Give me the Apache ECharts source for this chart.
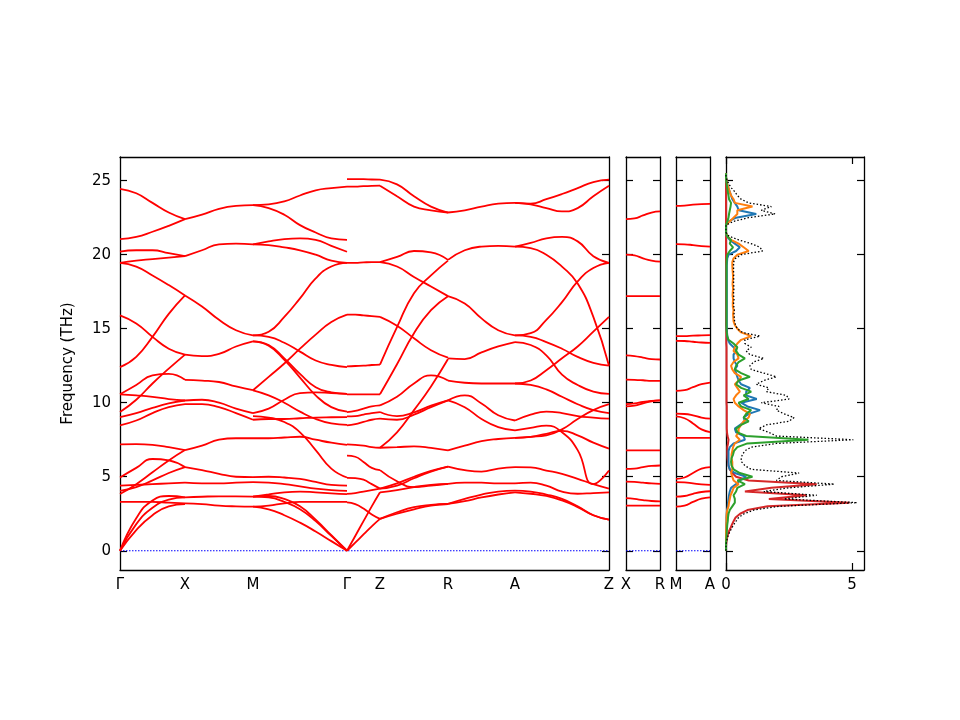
<!DOCTYPE html>
<html><head><meta charset="utf-8">
<script src="https://cdn.jsdelivr.net/npm/echarts@6/dist/echarts.min.js"></script>
<style>html,body{margin:0;padding:0;background:#fff}#c{width:960px;height:720px}</style>
</head><body><div id="c"></div>
<script>
// High-symmetry path
const kLabels = ['Γ','X','M','Γ','Z','R','A','Z'];
const kDist = [0, 65, 133, 227, 260, 328, 395, 489];

// Band values per segment (THz), sampled evenly along each segment
const segGX = [
 [24.45,24.15,23.5,22.85,22.4],[21.05,21.2,21.55,21.95,22.4],[20.2,20.3,20.3,20.1,19.9],
 [19.45,19.6,19.7,19.8,19.9],[19.45,19.2,18.6,17.95,17.25],[15.9,15.35,14.45,13.65,13.25],
 [12.4,13.1,14.45,16.0,17.25],[10.57,11.2,11.85,11.95,11.55],[9.37,10.2,11.3,12.3,13.25],
 [10.57,10.5,10.4,10.25,10.15],[9.03,9.3,9.65,9.95,10.15],[8.47,8.8,9.3,9.7,9.9],[7.18,7.2,7.15,7.0,6.8],
 [4.95,5.6,6.2,6.1,5.65],[3.83,4.5,5.3,6.1,6.8],[4.05,4.3,4.75,5.25,5.65],[4.4,4.45,4.5,4.55,4.6],
 [3.3,3.3,3.3,3.25,3.2],[0,2.2,3.4,3.7,3.6],[0,1.8,2.9,3.45,3.6],[0,1.4,2.4,3.0,3.15]
];
const segXM = [
 [22.4,22.7,23.1,23.3,23.35],[19.9,20.3,20.7,20.75,20.7],[17.25,16.5,15.6,14.9,14.55],
 [13.25,13.15,13.3,13.8,14.15],[11.55,11.5,11.4,11.1,10.85],[10.15,10.2,10.0,9.6,9.3],
 [9.9,9.9,9.7,9.3,8.85],[6.8,7.1,7.5,7.6,7.6],[5.65,5.45,5.2,5.0,4.97],[4.6,4.55,4.55,4.6,4.63],
 [3.6,3.65,3.68,3.67,3.66],[3.2,3.15,3.05,3.0,2.98]
];
const segMG = [
 [23.35,23.4,23.6,24.0,24.35,24.5,24.6],[23.35,23.15,22.7,22.0,21.5,21.1,21.0],
 [20.7,20.9,21.05,21.1,21.0,20.6,20.2],[20.7,20.65,20.5,20.3,20.0,19.6,19.45],
 [14.55,14.8,15.8,17.05,18.4,19.2,19.45],[14.55,14.45,14.05,13.45,12.85,12.55,12.4],
 [10.84,11.75,12.65,13.65,14.6,15.45,15.95],[14.15,13.9,13.0,11.95,11.05,10.7,10.6],
 [14.15,13.85,12.9,11.7,10.5,9.7,9.4],[10.84,10.5,10.0,9.4,8.9,8.6,8.5],
 [9.3,9.6,10.2,10.65,10.7,10.65,10.6],[9.1,9.0,8.7,8.0,6.8,5.55,4.95],
 [8.85,8.9,8.9,8.95,9.0,9.02,9.03],[7.6,7.6,7.65,7.7,7.5,7.3,7.15],
 [4.97,5.0,4.95,4.85,4.65,4.45,4.4],[4.63,4.6,4.5,4.35,4.2,4.1,4.05],
 [3.66,3.8,3.95,4.0,3.95,3.88,3.83],[2.98,3.05,3.2,3.3,3.3,3.3,3.3],
 [3.66,3.6,3.3,2.8,2.0,1.0,0],[3.66,3.7,3.5,3.0,2.1,1.05,0],[2.98,2.8,2.4,1.9,1.3,0.65,0]
];
const segGZ = [
 [25.1,25.1,25.1,25.08,25.07],[24.6,24.6,24.63,24.65,24.66],[19.45,19.45,19.48,19.5,19.5],
 [15.95,15.95,15.9,15.85,15.8],[12.45,12.48,12.5,12.55,12.58],[10.57,10.57,10.57,10.57,10.57],
 [9.37,9.45,9.6,9.75,9.82],[9.08,9.1,9.2,9.3,9.37],[8.47,8.55,8.7,8.85,8.92],
 [7.18,7.15,7.1,7.0,6.96],[6.43,6.35,6.0,5.6,5.45],[4.92,4.9,4.8,4.5,4.2],[3.84,3.9,4.0,4.1,4.2],
 [3.27,3.15,2.85,2.45,2.15],[0,1.0,2.0,3.0,3.95],[0,0.55,1.1,1.65,2.15]
];
const segZR = [
 [25.07,24.75,23.95,23.25,22.85],[24.66,23.95,23.25,23.0,22.85],[19.5,19.85,20.25,20.15,19.65],
 [19.5,19.2,18.5,17.85,17.2],[12.58,15.1,17.4,18.6,19.6],[10.57,12.6,14.7,16.25,17.2],
 [15.8,15.2,14.35,13.55,13.05],[6.96,8.0,9.5,11.1,12.95],[9.82,10.4,11.3,11.85,11.5],
 [9.37,9.1,9.35,9.8,10.16],[8.92,8.85,9.2,9.7,10.16],[6.96,7.0,7.05,6.95,6.78],
 [5.45,4.7,4.3,4.4,4.52],[4.2,4.55,5.0,5.4,5.69],[4.2,4.4,4.9,5.35,5.69],[3.95,4.1,4.3,4.45,4.52],
 [2.15,2.6,2.95,3.1,3.16],[2.15,2.5,2.8,3.05,3.16]
];
const segRA = [
 [22.85,23.0,23.25,23.45,23.5],[19.65,20.3,20.55,20.6,20.55],[17.2,16.7,15.7,14.9,14.55],
 [13.0,12.95,13.4,13.8,14.1],[11.5,11.35,11.3,11.3,11.3],[10.16,10.5,9.95,9.15,8.8],
 [10.16,9.7,8.9,8.35,8.13],[6.78,7.1,7.4,7.55,7.63],[5.69,5.45,5.35,5.55,5.65],
 [4.52,4.6,4.6,4.55,4.55],[3.16,3.5,3.8,4.0,4.06],[3.16,3.35,3.6,3.8,3.95]
];
const segAZ = [
 [23.5,23.45,23.75,24.1,24.5,24.9,25.07],[23.5,23.4,23.15,22.92,23.15,23.95,24.66],
 [20.55,20.8,21.1,21.2,20.9,19.9,19.45],[20.55,20.45,20.0,19.2,18.05,15.8,12.5],
 [14.55,14.7,15.6,16.8,18.2,19.1,19.45],[14.55,14.45,14.1,13.65,13.1,12.7,12.5],
 [11.3,11.5,12.2,13.0,13.8,14.8,15.8],[14.1,13.9,13.2,11.9,11.2,10.75,10.6],
 [11.3,11.2,10.9,10.4,9.9,9.5,9.3],[8.8,9.2,9.4,9.3,9.1,9.0,8.92],
 [8.13,8.3,8.45,8.0,6.8,4.5,5.42],[7.63,7.7,7.9,8.1,7.8,7.3,6.9],[7.63,7.7,7.8,8.2,8.9,9.5,9.9],
 [5.65,5.63,5.42,5.2,4.86,4.5,4.2],[4.55,4.6,4.4,4.0,3.85,3.9,3.95],
 [4.06,4.0,3.8,3.5,3.0,2.4,2.1],[3.95,3.85,3.7,3.4,2.95,2.4,2.1]
];
const segments = [segGX, segXM, segMG, segGZ, segZR, segRA, segAZ];

const xrLabels = ['X','R'];
const xrBands = [
 [22.4,22.45,22.65,22.85,22.92],[20.0,19.95,19.75,19.6,19.53],[17.2,17.2,17.2,17.2,17.2],
 [13.2,13.15,13.05,12.95,12.92],[11.56,11.55,11.52,11.48,11.47],[9.9,9.95,10.05,10.12,10.16],
 [9.75,9.8,9.95,10.1,10.16],[6.78,6.78,6.78,6.78,6.78],[5.53,5.55,5.65,5.73,5.76],
 [4.67,4.65,4.6,4.55,4.52],[3.55,3.5,3.42,3.36,3.34],[3.05,3.05,3.05,3.05,3.05]
];
const maLabels = ['M','A'];
const maBands = [
 [23.3,23.32,23.38,23.42,23.44],[20.71,20.7,20.65,20.58,20.55],[14.5,14.5,14.53,14.55,14.57],
 [14.18,14.17,14.12,14.07,14.05],[10.8,10.85,11.05,11.25,11.36],[9.26,9.24,9.15,9.0,8.92],
 [9.08,8.95,8.6,8.2,8.02],[7.63,7.63,7.63,7.63,7.63],[4.86,4.95,5.25,5.55,5.65],
 [4.63,4.62,4.55,4.48,4.45],[3.66,3.7,3.85,3.97,4.02],[2.98,3.05,3.3,3.52,3.61]
];

// Phonon DOS
const dosFreq = [0,0.25,0.5,0.75,1,1.25,1.5,1.75,2,2.25,2.5,2.75,3,3.25,3.5,3.75,4,4.25,4.5,4.75,5,5.25,5.5,5.75,6,6.25,6.5,6.75,7,7.25,7.5,7.75,8,8.25,8.5,8.75,9,9.25,9.5,9.75,10,10.25,10.5,10.75,11,11.25,11.5,11.75,12,12.25,12.5,12.75,13,13.25,13.5,13.75,14,14.25,14.5,14.75,15,15.25,15.5,15.75,16,16.25,16.5,16.75,17,17.25,17.5,17.75,18,18.25,18.5,18.75,19,19.25,19.5,19.75,20,20.25,20.5,20.75,21,21.25,21.5,21.75,22,22.25,22.5,22.75,23,23.25,23.5,23.75,24,24.25,24.5,24.75,25,25.25,25.5];
const dosTotal = [0,0,0.01,0.04,0.08,0.14,0.22,0.3,0.4,0.5,0.72,1.1,2.1,5.2,2.3,3.6,1.5,2.5,4.3,2.0,2.2,2.9,1.0,0.75,0.62,0.6,0.65,0.75,1.0,2.0,5.05,2.0,1.7,1.3,1.6,2.5,2.7,2.3,2.0,2.1,1.4,2.5,2.4,1.6,1.7,1.2,1.5,2.0,1.5,1.0,0.95,1.1,1.5,0.95,0.8,1.0,0.75,0.75,1.35,0.65,0.45,0.38,0.34,0.33,0.32,0.33,0.31,0.3,0.32,0.3,0.3,0.32,0.3,0.3,0.31,0.3,0.3,0.3,0.3,0.38,0.6,1.45,1.35,1.0,0.5,0.12,0,0,0,0.3,0.9,1.95,1.4,1.8,0.9,0.6,0.45,0.35,0.22,0.12,0.05,0,0];
const dosRed = [0,0,0.01,0.03,0.06,0.1,0.17,0.23,0.3,0.38,0.56,0.85,1.65,4.9,1.7,3.2,0.75,1.8,3.6,0.9,0.4,0.25,0.15,0.1,0.08,0.06,0.05,0.05,0.05,0.08,0.1,0.06,0.04,0.03,0.03,0.03,0.03,0.03,0.03,0.03,0.02,0.02,0.02,0.02,0.02,0.02,0.02,0.02,0.02,0.02,0.02,0.02,0.02,0.02,0.02,0.02,0.01,0.01,0.01,0.01,0.01,0,0,0,0,0,0,0,0,0,0,0,0,0,0,0,0,0,0,0,0,0,0,0,0,0,0,0,0,0,0,0,0,0,0,0,0,0,0,0,0,0,0];
const dosGreen = [0,0,0,0.01,0.02,0.03,0.04,0.05,0.07,0.08,0.1,0.15,0.25,0.35,0.35,0.3,0.4,0.45,0.75,0.45,1.05,0.55,0.3,0.22,0.2,0.22,0.28,0.32,0.45,0.85,3.27,0.8,0.45,0.4,0.6,0.9,0.7,0.8,1.0,0.6,0.5,0.9,0.7,1.0,0.6,0.4,0.5,0.95,0.6,0.35,0.4,0.5,0.75,0.5,0.4,0.45,0.3,0.1,0.05,0.03,0.02,0.02,0.02,0.02,0.02,0.02,0.02,0.02,0.02,0.02,0.02,0.02,0.02,0.02,0.02,0.02,0.02,0.02,0.02,0.03,0.05,0.15,0.28,0.15,0.2,0.04,0,0,0,0.05,0.1,0.12,0.15,0.18,0.2,0.12,0.1,0.07,0.05,0.03,0.01,0,0];
const dosBlue = [0,0,0,0,0,0,0.01,0.01,0.02,0.02,0.03,0.04,0.07,0.08,0.1,0.12,0.15,0.2,0.4,0.55,0.8,0.35,0.15,0.1,0.1,0.1,0.1,0.1,0.15,0.3,0.75,0.7,0.4,0.35,0.55,0.75,0.7,0.9,1.35,0.85,0.6,1.22,0.8,0.8,0.95,0.6,0.5,0.45,0.4,0.35,0.45,0.35,0.3,0.3,0.4,0.3,0.15,0.08,0.05,0.04,0.03,0.03,0.03,0.03,0.03,0.03,0.03,0.03,0.03,0.03,0.03,0.03,0.03,0.03,0.03,0.03,0.03,0.03,0.04,0.05,0.1,0.4,0.55,0.35,0.15,0.03,0,0,0,0.1,0.4,1.2,0.5,0.45,0.35,0.25,0.2,0.15,0.1,0.05,0.02,0,0];
const dosOrange = [0,0,0,0,0,0,0.01,0.01,0.02,0.02,0.03,0.05,0.1,0.12,0.15,0.18,0.25,0.3,0.5,0.3,0.25,0.2,0.25,0.25,0.25,0.22,0.22,0.25,0.28,0.35,0.55,0.4,0.5,0.5,0.6,0.7,0.9,0.95,0.7,0.5,0.35,0.3,0.4,0.55,0.45,0.35,0.5,0.6,0.35,0.25,0.2,0.3,0.5,0.45,0.3,0.35,0.45,0.6,1.0,0.6,0.45,0.35,0.3,0.29,0.28,0.3,0.27,0.27,0.28,0.26,0.27,0.28,0.26,0.27,0.28,0.27,0.26,0.25,0.25,0.3,0.45,0.9,0.7,0.5,0.2,0.05,0,0,0,0.15,0.3,0.45,0.45,1.05,0.35,0.3,0.2,0.15,0.1,0.05,0.02,0,0];

const yTicks = [0,5,10,15,20,25];
const dosTicks = [0,5];

const FONT = 'DejaVu Sans';
const fMin = -1.3, fMax = 26.6;
const chart = echarts.init(document.getElementById('c'), null, {renderer:'canvas'});

const grids = [
 {left:120, top:157, width:489, height:413},
 {left:626, top:157, width:34, height:413},
 {left:676, top:157, width:34, height:413},
 {left:726, top:157, width:138, height:413}
];
const lineAx = {show:true, onZero:false, lineStyle:{color:'#000', width:1.3}};
const xRanges = [[0, kDist[kDist.length-1]],[0,1],[0,1],[0,5.476]];
const xLabelVals = [kDist,[0,1],[0,1],dosTicks];
const xLabelText = [
 v => kLabels[kDist.indexOf(v)],
 v => xrLabels[v],
 v => maLabels[v],
 v => String(v)
];
const xAxis = [], yAxis = [];
for (let g = 0; g < 4; g++) {
  xAxis.push({type:'value', gridIndex:g, position:'bottom', min:xRanges[g][0], max:xRanges[g][1],
    axisLine:lineAx, splitLine:{show:false},
    axisTick:{show:g===3, inside:true, length:7, lineStyle:{color:'#000',width:1.2}, customValues:dosTicks},
    axisLabel:{show:true, customValues:xLabelVals[g], formatter:xLabelText[g], showMinLabel:true, showMaxLabel:true,
      color:'#000', fontFamily:FONT, fontSize:15, margin:8}});
}
for (let g = 0; g < 4; g++) {
  xAxis.push({type:'value', gridIndex:g, position:'top', min:xRanges[g][0], max:xRanges[g][1],
    axisLine:lineAx, splitLine:{show:false}, axisLabel:{show:false},
    axisTick:{show:g===3, inside:true, length:7, lineStyle:{color:'#000',width:1.2}, customValues:dosTicks}});
}
for (let g = 0; g < 4; g++) {
  yAxis.push({type:'value', gridIndex:g, position:'left', min:fMin, max:fMax,
    axisLine:lineAx, splitLine:{show:false},
    axisTick:{show:true, inside:true, length:7, lineStyle:{color:'#000',width:1.2}, customValues:yTicks},
    axisLabel:{show:g===0, customValues:yTicks, color:'#000', fontFamily:FONT, fontSize:15, margin:9},
    name: g===0 ? 'Frequency (THz)' : '', nameLocation:'middle', nameGap:44,
    nameTextStyle:{color:'#000', fontFamily:FONT, fontSize:15}});
}
for (let g = 0; g < 4; g++) {
  yAxis.push({type:'value', gridIndex:g, position:'right', min:fMin, max:fMax,
    axisLine:lineAx, splitLine:{show:false}, axisLabel:{show:false},
    axisTick:{show:true, inside:true, length:7, lineStyle:{color:'#000',width:1.2}, customValues:yTicks}});
}

const series = [];
const bandStyle = {color:'#ff0000', width:1.8};
function addBand(vals, x0, x1, xi, yi) {
  const n = vals.length;
  series.push({type:'line', xAxisIndex:xi, yAxisIndex:yi, smooth:0.5,
    showSymbol:false, silent:true, lineStyle:bandStyle, itemStyle:{color:'#ff0000'},
    data: vals.map((v,j) => [x0 + (x1-x0)*j/(n-1), v])});
}
// zero-frequency reference lines (drawn first, below the bands)
const zeroSpans = [[kDist[0], kDist[kDist.length-1]], [0,1], [0,1]];
zeroSpans.forEach((sp, g) => {
  series.push({type:'line', xAxisIndex:g, yAxisIndex:g, showSymbol:false, silent:true,
    lineStyle:{color:'#0000ff', type:[1.5,1.5], width:1.2}, itemStyle:{color:'#0000ff'},
    data:[[sp[0],0],[sp[1],0]]});
});
segments.forEach((seg, s) => seg.forEach(b => addBand(b, kDist[s], kDist[s+1], 0, 0)));
xrBands.forEach(b => addBand(b, 0, 1, 1, 1));
maBands.forEach(b => addBand(b, 0, 1, 2, 2));

function addDos(vals, color, width, dashType) {
  series.push({type:'line', xAxisIndex:3, yAxisIndex:3, showSymbol:false, silent:true,
    lineStyle:{color:color, width:width, type: dashType || 'solid'},
    itemStyle:{color:color},
    data: dosFreq.map((f,i) => [vals[i], f])});
}
addDos(dosRed, '#d62728', 2);
addDos(dosBlue, '#1f77b4', 2);
addDos(dosOrange, '#ff7f0e', 2);
addDos(dosGreen, '#2ca02c', 2);
addDos(dosTotal, '#000000', 1.3, [1.5,2]);

chart.setOption({animation:false, backgroundColor:'#fff', grid:grids, xAxis:xAxis, yAxis:yAxis, series:series});
</script></body></html>
